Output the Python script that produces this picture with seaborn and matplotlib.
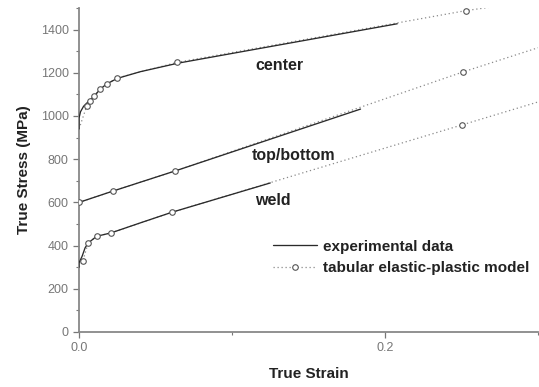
import numpy as np
import pandas as pd
import matplotlib
matplotlib.use("Agg")
import matplotlib.pyplot as plt
import seaborn as sns
from matplotlib.lines import Line2D
from matplotlib.ticker import MultipleLocator

# ---- data ----
center_exp_x = [0.0, 0.0, 0.001, 0.003, 0.006, 0.010, 0.014, 0.018, 0.025, 0.040, 0.065, 0.208]
center_exp_y = [940, 990, 1020, 1045, 1066, 1093, 1125, 1148, 1174, 1205, 1245, 1427]
center_mod_x = [0.0, 0.005, 0.007, 0.010, 0.014, 0.018, 0.025, 0.064, 0.253, 0.30]
center_mod_y = [940, 1045, 1070, 1093, 1125, 1148, 1176, 1248, 1488, 1535]
center_mark_x = [0.005, 0.007, 0.010, 0.014, 0.018, 0.025, 0.064, 0.253]
center_mark_y = [1045, 1070, 1093, 1125, 1148, 1176, 1248, 1488]

top_exp_x = [0.0, 0.022, 0.063, 0.184]
top_exp_y = [600, 652, 746, 1032]
top_mod_x = [0.0, 0.022, 0.063, 0.251, 0.30]
top_mod_y = [600, 652, 746, 1204, 1316]
top_mark_x = [0.0, 0.022, 0.063, 0.251]
top_mark_y = [600, 652, 746, 1204]

weld_exp_x = [0.0, 0.0, 0.002, 0.004, 0.006, 0.0115, 0.021, 0.040, 0.061, 0.125]
weld_exp_y = [300, 320, 350, 390, 412, 443, 459, 505, 555, 690]
weld_mod_x = [0.0, 0.0024, 0.006, 0.0115, 0.021, 0.061, 0.250, 0.30]
weld_mod_y = [300, 327, 412, 443, 459, 555, 958, 1065]
weld_mark_x = [0.0024, 0.006, 0.0115, 0.021, 0.061, 0.250]
weld_mark_y = [327, 412, 443, 459, 555, 958]

labels = ["center", "top/bottom", "weld"]
label_x = [0.1155, 0.113, 0.115]
label_y = [1232, 815, 610]

# ---- figure ----
sns.set_style("white")
plt.rcParams['font.family'] = ['Liberation Sans', 'DejaVu Sans']
fig = plt.figure(figsize=(5.39, 3.87), dpi=100)
ax = fig.add_axes([79/539, 1-332/387, (538-79)/539, (332-8)/387])

exp_color = "#2a2a2a"
mod_color = "#8a8a8a"
dots = (0, (1.0, 2.2))

for mx, my, kx, ky in [(center_mod_x, center_mod_y, center_mark_x, center_mark_y),
                       (top_mod_x, top_mod_y, top_mark_x, top_mark_y),
                       (weld_mod_x, weld_mod_y, weld_mark_x, weld_mark_y)]:
    sns.lineplot(x=mx, y=my, ax=ax, color=mod_color, lw=0.9,
                 linestyle=dots, sort=False, estimator=None)
    sns.scatterplot(x=kx, y=ky, ax=ax, marker="o", s=16, facecolor="white",
                    edgecolor="#555555", linewidth=0.8, zorder=4)

for ex, ey in [(center_exp_x, center_exp_y), (top_exp_x, top_exp_y), (weld_exp_x, weld_exp_y)]:
    sns.lineplot(x=ex, y=ey, ax=ax, color=exp_color, lw=0.95, sort=False, estimator=None, zorder=3)

for t, x, y in zip(labels, label_x, label_y):
    ax.text(x, y, t, fontsize=11.5, fontweight="bold", color="#222222", ha="left", va="center")

ax.set_xlim(0, 0.3)
ax.set_ylim(0, 1500)
ax.xaxis.set_major_locator(MultipleLocator(0.2))
ax.xaxis.set_minor_locator(MultipleLocator(0.1))
ax.yaxis.set_major_locator(MultipleLocator(200))
ax.yaxis.set_minor_locator(MultipleLocator(100))
ax.xaxis.set_major_formatter(matplotlib.ticker.FuncFormatter(lambda v, p: f"{v:.1f}"))

for s in ["top", "right"]:
    ax.spines[s].set_visible(False)
for s in ["left", "bottom"]:
    ax.spines[s].set_color("#888888")
    ax.spines[s].set_linewidth(1.3)
ax.tick_params(axis="both", which="major", direction="out", length=4, width=0.9,
               color="#777777", labelsize=9, labelcolor="#777777", left=True, bottom=True)
ax.tick_params(axis="both", which="minor", direction="out", length=2.5, width=0.8,
               color="#777777", left=True, bottom=True)

ax.set_xlabel("True Strain", fontsize=11, fontweight="bold", color="#222222", labelpad=9)
ax.set_ylabel("True Stress (MPa)", fontsize=11, fontweight="bold", color="#222222", labelpad=7)

handles = [Line2D([0], [0], color=exp_color, lw=0.95),
           Line2D([0], [0], color=mod_color, lw=0.9, linestyle=dots,
                  marker="o", markersize=4, markerfacecolor="white",
                  markeredgecolor="#555555", markeredgewidth=0.8)]
ax.legend(handles, ["experimental data", "tabular elastic-plastic model"],
          loc="center left", bbox_to_anchor=(0.392, 0.23), frameon=False,
          prop={"size": 11, "weight": "bold"}, handlelength=2.9, handletextpad=0.4,
          labelspacing=0.5, labelcolor="#222222")

fig.savefig("out.png", dpi=100)
